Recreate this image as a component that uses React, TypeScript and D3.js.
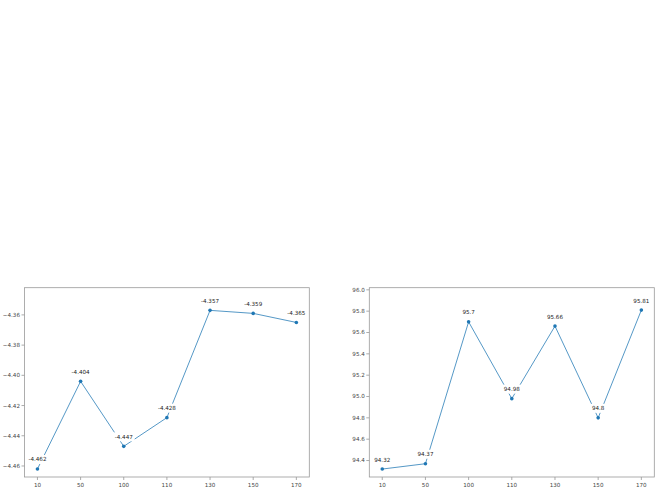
import { useEffect, useRef } from 'react';
import { select, scaleLinear, line, format } from 'd3';

const xLabels = ['10', '50', '100', '110', '130', '150', '170'];
const lossValues = [-4.462, -4.404, -4.447, -4.428, -4.357, -4.359, -4.365];
const accValues = [94.32, 94.37, 95.7, 94.98, 95.66, 94.8, 95.81];
const lossTicks = [-4.46, -4.44, -4.42, -4.4, -4.38, -4.36];
const accTicks = [94.4, 94.6, 94.8, 95.0, 95.2, 95.4, 95.6, 95.8, 96.0];

const W = 661;
const H = 491;
const FONT = 'DejaVu Sans, sans-serif';
const LINE_COLOR = '#1f77b4';

interface PanelSpec {
  left: number;
  right: number;
  top: number;
  bottom: number;
  values: number[];
  ticks: number[];
  yDomain: [number, number];
  fmt: (v: number) => string;
}

const drawPanel = (svg: any, p: PanelSpec) => {
  const g = svg.append('g');
  const x = scaleLinear().domain([-0.3, xLabels.length - 0.7]).range([p.left, p.right]);
  const y = scaleLinear().domain(p.yDomain).range([p.bottom, p.top]);

  // y ticks
  p.ticks.forEach((t) => {
    g.append('line')
      .attr('x1', p.left - 3)
      .attr('x2', p.left)
      .attr('y1', y(t))
      .attr('y2', y(t))
      .attr('stroke', '#888')
      .attr('stroke-width', 0.7);
    g.append('text')
      .attr('x', p.left - 4.5)
      .attr('y', y(t))
      .attr('dy', '0.35em')
      .attr('text-anchor', 'end')
      .attr('font-family', FONT)
      .attr('font-size', 5.6)
      .attr('fill', '#444')
      .text(p.fmt(t).replace('-', '\u2212'));
  });

  // x ticks
  xLabels.forEach((lab, i) => {
    g.append('line')
      .attr('x1', x(i))
      .attr('x2', x(i))
      .attr('y1', p.bottom)
      .attr('y2', p.bottom + 3)
      .attr('stroke', '#888')
      .attr('stroke-width', 0.7);
    g.append('text')
      .attr('x', x(i))
      .attr('y', p.bottom + 5.5)
      .attr('dy', '0.75em')
      .attr('text-anchor', 'middle')
      .attr('font-family', FONT)
      .attr('font-size', 5.6)
      .attr('fill', '#444')
      .text(lab);
  });

  const path = line<number>()
    .x((_, i) => x(i))
    .y((d) => y(d));

  g.append('path')
    .attr('d', path(p.values))
    .attr('fill', 'none')
    .attr('stroke', LINE_COLOR)
    .attr('stroke-opacity', 0.85)
    .attr('stroke-width', 0.9);

  g.selectAll('circle.pt')
    .data(p.values)
    .join('circle')
    .attr('class', 'pt')
    .attr('cx', (_: number, i: number) => x(i))
    .attr('cy', (d: number) => y(d))
    .attr('r', 1.8)
    .attr('fill', LINE_COLOR);

  // annotations with white boxes
  p.values.forEach((v, i) => {
    const ag = g.append('g');
    const txt = ag
      .append('text')
      .attr('x', x(i))
      .attr('y', y(v) - 7.5)
      .attr('text-anchor', 'middle')
      .attr('font-family', FONT)
      .attr('font-size', 5.6)
      .attr('fill', '#222')
      .text(String(v));
    const bb = (txt.node() as SVGTextElement).getBBox();
    ag.insert('rect', 'text')
      .attr('x', bb.x - 1.5)
      .attr('y', bb.y - 1.5)
      .attr('width', bb.width + 3)
      .attr('height', bb.height + 3)
      .attr('fill', 'white');
  });

  // frame
  g.append('rect')
    .attr('x', p.left)
    .attr('y', p.top)
    .attr('width', p.right - p.left)
    .attr('height', p.bottom - p.top)
    .attr('fill', 'none')
    .attr('stroke', '#999')
    .attr('stroke-width', 0.8);
};

const Chart = () => {
  const ref = useRef<SVGSVGElement>(null);

  useEffect(() => {
    const svg = select(ref.current);
    svg.selectAll('*').remove();

    drawPanel(svg, {
      left: 24.5,
      right: 309.3,
      top: 287.7,
      bottom: 477,
      values: lossValues,
      ticks: lossTicks,
      yDomain: [-4.4673, -4.342],
      fmt: format('.2f'),
    });

    drawPanel(svg, {
      left: 369.3,
      right: 654.3,
      top: 287.7,
      bottom: 477,
      values: accValues,
      ticks: accTicks,
      yDomain: [94.2455, 96.02],
      fmt: format('.1f'),
    });
  }, []);

  return <svg ref={ref} width={W} height={H} style={{ display: 'block', background: 'white' }} />;
};

export default function App() {
  return (
    <div style={{ position: 'fixed', left: 0, top: 0, width: W, height: H, background: 'white' }}>
      <Chart />
    </div>
  );
}
